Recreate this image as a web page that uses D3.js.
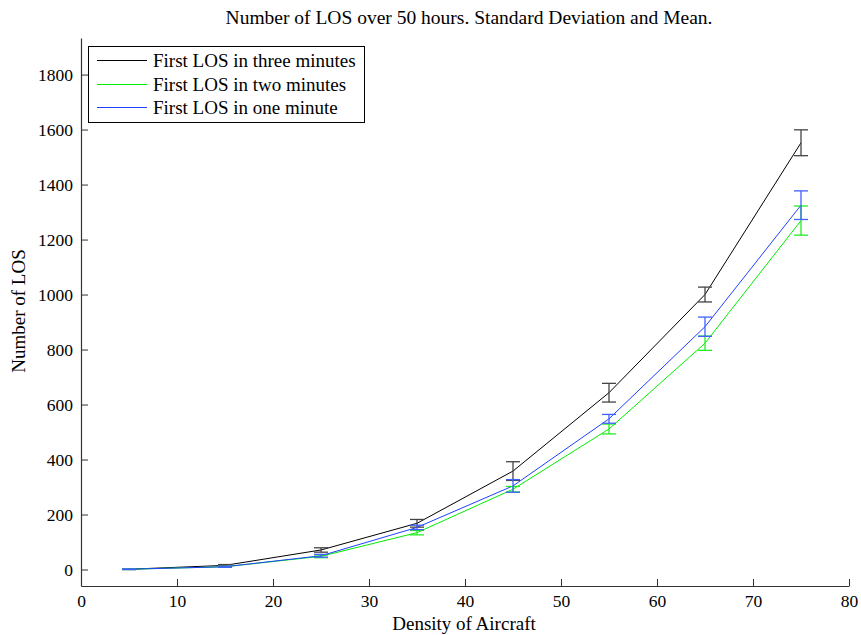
<!DOCTYPE html>
<html>
<head>
<meta charset="utf-8">
<script src="https://cdn.jsdelivr.net/npm/d3@7"></script>
<style>
  body { margin: 0; background: #fff; }
  svg { font-family: "Liberation Serif", "Times New Roman", serif; }
</style>
</head>
<body>
<div id="chart"></div>
<script>
const density = [5, 15, 25, 35, 45, 55, 65, 75];

const meanThree = [1, 15, 71, 168, 358, 643, 1000, 1552];
const sdThree   = [1, 3, 8, 14, 34, 34, 27, 47];

const meanTwo = [1, 10, 48, 134, 292, 511, 823, 1269];
const sdTwo   = [1, 2, 5, 8, 10, 18, 26, 53];

const meanOne = [1, 10, 50, 153, 304, 548, 883, 1325];
const sdOne   = [1, 2, 5, 8, 23, 16, 35, 52];

const xTicks = [0, 10, 20, 30, 40, 50, 60, 70, 80];
const yTicks = [0, 200, 400, 600, 800, 1000, 1200, 1400, 1600, 1800];

const series = [
  { name: "First LOS in three minutes", mean: meanThree, sd: sdThree, color: "#000000", errColor: "#444444" },
  { name: "First LOS in two minutes",   mean: meanTwo,   sd: sdTwo,   color: "#00ee00", errColor: "#22ee22" },
  { name: "First LOS in one minute",    mean: meanOne,   sd: sdOne,   color: "#2040ff", errColor: "#4060ff" }
];

const W = 861, H = 635;
const svg = d3.select("#chart").append("svg")
  .attr("width", W).attr("height", H);

const x = d3.scaleLinear().domain([0, 80]).range([81, 849]);
const y = d3.scaleLinear().domain([-60, 1933]).range([586, 38]);

// axes (box off, ticks pointing inward)
const xAxis = svg.append("g")
  .attr("transform", `translate(0,${y.range()[0]})`)
  .call(d3.axisBottom(x).tickValues(xTicks).tickFormat(d3.format("d"))
    .tickSizeInner(-7).tickSizeOuter(0).tickPadding(9));
const yAxis = svg.append("g")
  .attr("transform", `translate(${x.range()[0]},0)`)
  .call(d3.axisLeft(y).tickValues(yTicks).tickFormat(d3.format("d"))
    .tickSizeInner(-7).tickSizeOuter(0).tickPadding(8));

[xAxis, yAxis].forEach(a => {
  a.select(".domain").attr("stroke", "#333").attr("stroke-width", 1.2);
  a.selectAll(".tick line").attr("stroke", "#333");
  a.selectAll(".tick text")
    .attr("fill", "#000")
    .style("font-family", "Liberation Serif")
    .style("font-size", "17.5px");
});

// lines
const line = d3.line()
  .x((d, i) => x(density[i]))
  .y(d => y(d));

series.forEach(s => {
  svg.append("path")
    .datum(s.mean)
    .attr("fill", "none")
    .attr("stroke", s.color)
    .attr("stroke-width", 1)
    .attr("d", line);
});

// error bars
const cap = 7;
series.forEach(s => {
  const g = svg.append("g").attr("stroke", s.errColor).attr("stroke-width", 1.3).attr("fill", "none");
  s.mean.forEach((m, i) => {
    const cx = x(density[i]);
    const top = y(m + s.sd[i]), bot = y(m - s.sd[i]);
    g.append("line").attr("x1", cx).attr("x2", cx).attr("y1", top).attr("y2", bot);
    g.append("line").attr("x1", cx - cap).attr("x2", cx + cap).attr("y1", top).attr("y2", top);
    g.append("line").attr("x1", cx - cap).attr("x2", cx + cap).attr("y1", bot).attr("y2", bot);
  });
});

// title and labels
svg.append("text")
  .attr("x", 469).attr("y", 24)
  .attr("text-anchor", "middle")
  .style("font-size", "19.5px")
  .text("Number of LOS over 50 hours. Standard Deviation and Mean.");

svg.append("text")
  .attr("x", 464).attr("y", 630)
  .attr("text-anchor", "middle")
  .style("font-size", "19px")
  .text("Density of Aircraft");

svg.append("text")
  .attr("transform", "translate(25,311) rotate(-90)")
  .attr("text-anchor", "middle")
  .style("font-size", "19px")
  .text("Number of LOS");

// legend
const legend = svg.append("g");
legend.append("rect")
  .attr("x", 88.5).attr("y", 46.5).attr("width", 276).attr("height", 76)
  .attr("fill", "#fff").attr("stroke", "#000").attr("stroke-width", 1);
const legY = [60.5, 84.5, 107.5];
series.forEach((s, i) => {
  legend.append("line")
    .attr("x1", 97).attr("x2", 147)
    .attr("y1", legY[i]).attr("y2", legY[i])
    .attr("stroke", s.color).attr("stroke-width", 1);
  legend.append("text")
    .attr("x", 153).attr("y", legY[i] + 6.5)
    .style("font-size", "19px")
    .text(s.name);
});
</script>
</body>
</html>
